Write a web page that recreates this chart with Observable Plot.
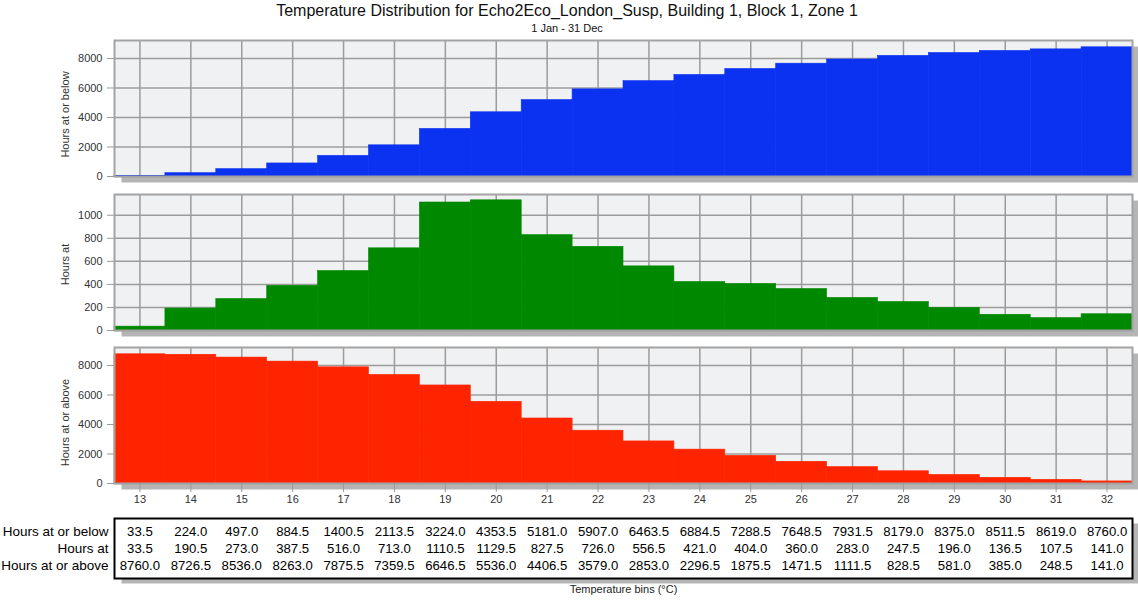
<!DOCTYPE html>
<html><head><meta charset="utf-8">
<script src="https://cdn.jsdelivr.net/npm/d3@7"></script>
<script src="https://cdn.jsdelivr.net/npm/@observablehq/plot@0.6"></script>
<style>
body{margin:0;background:#fff;font-family:"Liberation Sans",Arial,sans-serif;}
#chart{position:relative;width:1138px;height:601px;overflow:hidden;background:#fff;}
.t{position:absolute;left:0;width:1134px;text-align:center;color:#111;white-space:nowrap;}
.panel{position:absolute;left:0;}
.panel svg{display:block;}
</style></head><body>
<div id="chart">
<div class="t" style="top:2px;font-size:16px;line-height:18px;">Temperature Distribution for Echo2Eco_London_Susp, Building 1, Block 1, Zone 1</div>
<div class="t" style="top:22px;font-size:11px;line-height:13px;">1 Jan - 31 Dec</div>
</div>
<script>
const bins = [13,14,15,16,17,18,19,20,21,22,23,24,25,26,27,28,29,30,31,32];
const hoursAtOrBelow = [33.5,224.0,497.0,884.5,1400.5,2113.5,3224.0,4353.5,5181.0,5907.0,6463.5,6884.5,7288.5,7648.5,7931.5,8179.0,8375.0,8511.5,8619.0,8760.0];
const hoursAt = [33.5,190.5,273.0,387.5,516.0,713.0,1110.5,1129.5,827.5,726.0,556.5,421.0,404.0,360.0,283.0,247.5,196.0,136.5,107.5,141.0];
const hoursAtOrAbove = [8760.0,8726.5,8536.0,8263.0,7875.5,7359.5,6646.5,5536.0,4406.5,3579.0,2853.0,2296.5,1875.5,1471.5,1111.5,828.5,581.0,385.0,248.5,141.0];
const rowLabels = ["Hours at or below","Hours at","Hours at or above"];
const cumulativeTicks = [0,2000,4000,6000,8000];
const hoursAtTicks = [0,200,400,600,800,1000];
const xLabel = "Temperature bins (°C)";

const FONT = '"Liberation Sans", Arial, sans-serif';
const chart = document.getElementById("chart");

function place(svg, top) {
  const d = document.createElement("div");
  d.className = "panel";
  d.style.top = top + "px";
  d.appendChild(svg);
  chart.appendChild(d);
}

function panel({series, color, ticks, ymax, label, top, height, mt, mb, labelDy, showX}) {
  const data = bins.map((t, i) => ({t, v: series[i]}));
  const marks = [
    Plot.frame({fill: "#b5b5b5", dx: 7, dy: 6}),
    Plot.frame({fill: "#f0f1f2"}),
    Plot.gridX(bins, {stroke: "#9c9c9c", strokeOpacity: 1, strokeWidth: 1.5}),
    Plot.gridY(ticks, {stroke: "#9c9c9c", strokeOpacity: 1, strokeWidth: 1.5}),
    Plot.barY(data, {x: "t", y: "v", fill: color, stroke: color, strokeWidth: 0.6}),
    Plot.frame({stroke: "#a3a3a3", strokeWidth: 2}),
    Plot.axisY(ticks, {tickSize: 7, tickPadding: 5, stroke: "#9a9a9a", fill: "#333", label: null, fontSize: 11, tickFormat: (d) => String(d)}),
    Plot.text([label], {frameAnchor: "left", textAnchor: "middle", lineAnchor: "middle", dx: -49, dy: labelDy, rotate: -90, fontSize: 11, fill: "#333"})
  ];
  if (showX) marks.push(Plot.axisX(bins, {tickSize: 9, tickPadding: 3, stroke: "#9a9a9a", fill: "#333", label: null, fontSize: 11}));
  const svg = Plot.plot({
    width: 1138, height, marginLeft: 114, marginRight: 6, marginTop: mt, marginBottom: mb,
    style: {fontFamily: FONT, background: "transparent", overflow: "visible"},
    x: {type: "band", domain: bins, padding: 0, round: false, axis: null},
    y: {domain: [0, ymax], axis: null},
    marks
  });
  place(svg, top);
}

panel({series: hoursAtOrBelow, color: "#0a32f0", ticks: cumulativeTicks, ymax: 9220, label: "Hours at or below", top: 30, height: 156, mt: 10, mb: 10, labelDy: 6, showX: false});
panel({series: hoursAt, color: "#008800", ticks: hoursAtTicks, ymax: 1180, label: "Hours at", top: 184, height: 156, mt: 10, mb: 10, labelDy: 2, showX: false});
panel({series: hoursAtOrAbove, color: "#ff2400", ticks: cumulativeTicks, ymax: 9220, label: "Hours at or above", top: 337, height: 176, mt: 10, mb: 30, labelDy: 7, showX: true});

// table
const seriesByRow = [hoursAtOrBelow, hoursAt, hoursAtOrAbove];
const tableRows = [];
rowLabels.forEach((row, r) => bins.forEach((t, i) => tableRows.push({t, row, value: seriesByRow[r][i].toFixed(1)})));

const tableSvg = Plot.plot({
  width: 1138, height: 80, marginLeft: 114, marginRight: 6, marginTop: 8, marginBottom: 12,
  style: {fontFamily: FONT, background: "transparent", overflow: "visible"},
  x: {type: "band", domain: bins, padding: 0, round: false, axis: null},
  y: {type: "point", domain: rowLabels, padding: 0.7, axis: null},
  marks: [
    Plot.frame({fill: "#b5b5b5", dx: 7, dy: 5}),
    Plot.frame({fill: "white", stroke: "black", strokeWidth: 2}),
    Plot.axisY(rowLabels, {tickSize: 0, tickPadding: 6, fill: "#000", label: null, fontSize: 13.5}),
    Plot.text(tableRows, {x: "t", y: "row", text: "value", fontSize: 13.2, fill: "#000"}),
    Plot.text([xLabel], {frameAnchor: "bottom", lineAnchor: "middle", dy: 11, fontSize: 11, fill: "#222"})
  ]
});
place(tableSvg, 510);
</script>
</body></html>
